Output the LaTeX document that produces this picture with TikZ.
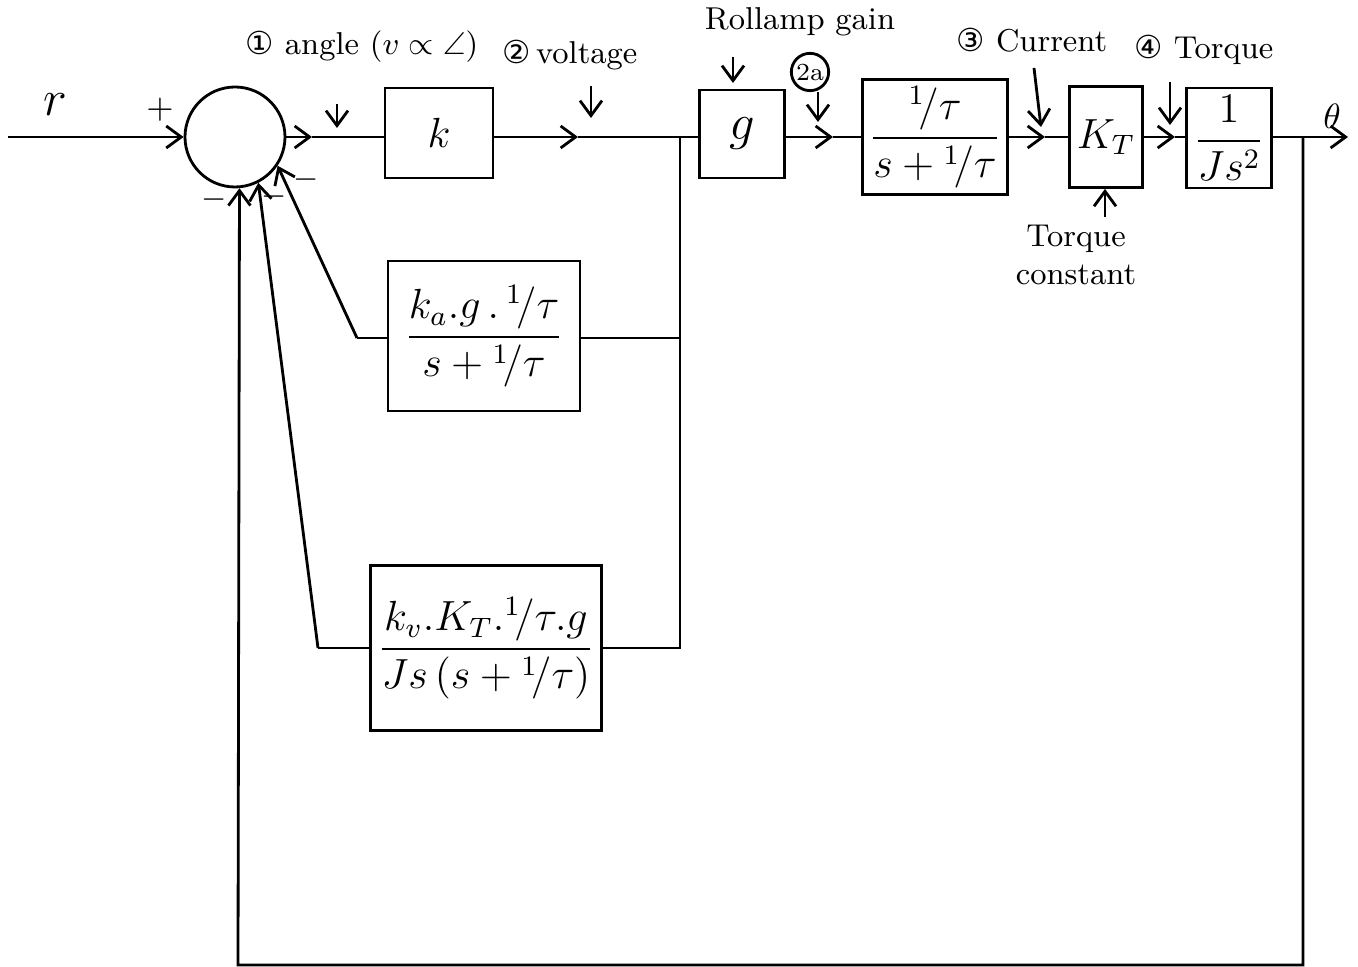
\documentclass[tikz,border=0pt]{standalone}
\usepackage{amsmath}
\usepackage{amssymb}
\usepackage{fontspec}
\newfontfamily\symf{DejaVu Sans}
\usetikzlibrary{arrows.meta,positioning}

\newcommand{\ovt}{{}^{1}\!/\tau}

\begin{document}
\begin{tikzpicture}[x=0.1mm,y=-0.1mm,thick,
  >={Straight Barb[length=1.5mm,width=2.2mm]},
  blk/.style={draw,minimum width=#1,inner sep=2pt,align=center},
  lbl/.style={font=\small,inner sep=1pt},
  sgn/.style={font=\small,inner sep=0pt}]
\useasboundingbox (0,0) rectangle (1358,967);

% forward path
\node[draw,circle,minimum size=10mm,inner sep=0pt] (sum) at (235,137) {};
\node[blk=10.8mm,minimum height=9mm,font=\large] (k) at (439,133) {$k$};
\node[blk=8.5mm,minimum height=8.8mm,font=\Large] (g) at (742,134) {$g$};
\node[blk=14.4mm,minimum height=10.1mm,font=\large] (tau) at (935,137) {$\dfrac{\ovt}{s+\ovt}$};
\node[blk=7.3mm,minimum height=10.1mm,font=\large] (kt) at (1106,137) {$K_T$};
\node[blk=7.8mm,minimum height=10mm,font=\large] (js) at (1229,138) {$\dfrac{1}{Js^2}$};

% feedback blocks
\node[blk=19.2mm,minimum height=15mm,font=\large] (mid) at (484,336) {$\dfrac{k_a.g\,.\,\ovt}{s+\ovt}$};
\node[blk=20.7mm,minimum height=16.5mm,font=\large] (low) at (486,648) {$\dfrac{k_v.K_T.\ovt.g}{Js\,(s+\ovt)}$};

\coordinate (in) at (8,137);
\coordinate (a1) at (312,137);
\coordinate (a2) at (578,137);
\coordinate (br1) at (680,137);
\coordinate (a3) at (833,137);
\coordinate (a4) at (1045,137);
\coordinate (a5) at (1175,137);
\coordinate (br2) at (1303,137);
\coordinate (out) at (1348,137);
\coordinate (c1) at (238,965);
\coordinate (c2) at (680,648);
\coordinate (c3) at (357,338);
\coordinate (c4) at (318,648);

\draw[->] (in) -- (sum.west);
\draw[->] (sum.east) -- (a1);
\draw (a1) -- (k.west |- a1);
\draw[->] (k.east |- a2) -- (a2);
\draw (a2) -- (g.west |- a2);
\draw[->] (g.east |- a3) -- (a3);
\draw (a3) -- (tau.west);
\draw[->] (tau.east) -- (a4);
\draw (a4) -- (kt.west);
\draw[->] (kt.east) -- (a5);
\draw (a5) -- (js.west |- a5);
\draw[->] (js.east |- out) -- (out);

% feedback loops
\draw[->] (br2) |- (c1) -- (sum.-85);
\draw (br1) -- (c2) -- (low.east |- c2);
\draw (mid.east |- c3) -- (mid.east |- c3 -| br1);
\draw (mid.west |- c3) -- (c3);
\draw[->] (c3) -- (sum.-34);
\draw (low.west |- c4) -- (c4);
\draw[->] (c4) -- (sum.-63);

% signs and signal names
\node[lbl,font=\Large] (r) at (55,105) {$r$};
\node[sgn,font=\normalsize] (p) at (160,110) {$+$};
\node[sgn] (m1) at (214,200) {$-$};
\node[sgn] (m2) at (274,197) {$-$};
\node[sgn] (m3) at (306,180) {$-$};
\node[lbl,font=\normalsize] (th) at (1332,116) {$\theta$};

% annotations
\node[lbl] (ang) at (362,47) {{\symf ①} angle $(v\propto\angle)$};
\node[lbl] (vol) at (570,55) {{\symf ②}\,voltage};
\node[lbl] (ramp) at (800,22) {Rollamp gain};
\node[draw,circle,inner sep=0.5pt,font=\scriptsize] (twoa) at (810,72) {2a};
\node[lbl] (cur) at (1032,40) {{\symf ③} Current};
\node[lbl] (tor) at (1204,50) {{\symf ④} Torque};
\node[lbl,align=center] (tc) at (1076,255) {Torque\\constant};

\coordinate (t1) at (337,104);
\coordinate (t2) at (591,86);
\coordinate (t3) at (733,57);
\coordinate (t4) at (818,122);
\coordinate (t5) at (1034,68);
\coordinate (t6) at (1170,82);
\coordinate (t7) at (1105,217);

\draw[->] (t1) -- ++(0,24);
\draw[->] (t2) -- ++(0,32);
\draw[->] (t3) -- ++(0,26);
\draw[->] (twoa.south -| t4) -- (t4);
\draw[->] (t5) -- (1041,127);
\draw[->] (t6) -- ++(0,43);
\draw[->] (t7) -- (kt.south -| t7);
\end{tikzpicture}
\end{document}
